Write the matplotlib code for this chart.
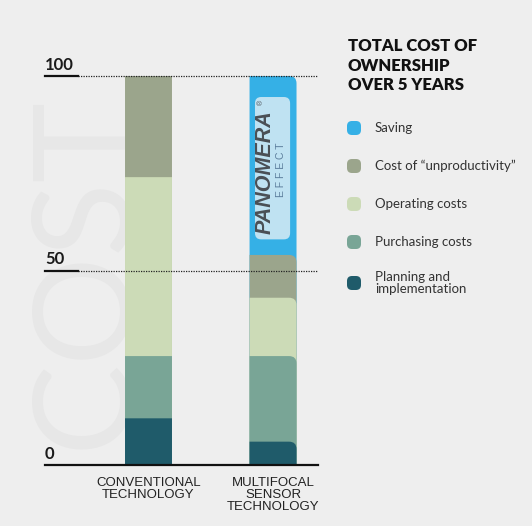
import matplotlib
matplotlib.use('Agg')
import matplotlib.pyplot as plt
from matplotlib.path import Path
from matplotlib.patches import PathPatch, FancyBboxPatch
import numpy as np

# Datos
categories = ['CONVENTIONAL\nTECHNOLOGY', 'MULTIFOCAL\nSENSOR\nTECHNOLOGY']
planning = [12, 6]
purchasing = [16, 22]
operating = [46, 15]
unproductivity = [26, 11]
saving = [0, 46]

series_names = ['Planning and\nimplementation', 'Purchasing costs', 'Operating costs',
                'Cost of \u201cunproductivity\u201d', 'Saving']
series_values = [planning, purchasing, operating, unproductivity, saving]
colors = ['#1f5b6a', '#79a596', '#ccdbb7', '#9ba58c', '#35b0e6']
round_side = ['left', 'right']
yticks = [0, 50, 100]

BG = '#eeeeee'
W, H = 532, 526
fig = plt.figure(figsize=(W / 100, H / 100), dpi=100, facecolor=BG)

# eje principal
ax = fig.add_axes([45 / W, 1 - 465 / H, 273 / W, 389 / H])
ax.patch.set_visible(False)
ax.set_xlim(-0.831, 1.361)
ax.set_ylim(0, 100)
ax.axis('off')

# texto de fondo "COST"
ax.text(0.15, 0.497, 'COST', transform=ax.transAxes, rotation=90, fontsize=98,
        family='Lato', color='#e7e7e7', ha='center', va='center', zorder=0)

bar_w = 0.377
rx, ry = 0.06, 1.9


def seg_path(x0, x1, y0, y1, side):
    if side == 'right':
        verts = [(x0, y0), (x1, y0), (x1, y1 - ry), (x1, y1), (x1 - rx, y1), (x0, y1), (x0, y0)]
    else:
        verts = [(x0, y0), (x1, y0), (x1, y1), (x0 + rx, y1), (x0, y1), (x0, y1 - ry), (x0, y0)]
    codes = [Path.MOVETO, Path.LINETO, Path.LINETO, Path.CURVE3, Path.CURVE3, Path.LINETO, Path.CLOSEPOLY]
    return Path(verts, codes)


tops = np.cumsum(np.array(series_values), axis=0)
for i in range(len(categories)):
    x0, x1 = i - bar_w / 2, i + bar_w / 2
    # de arriba hacia abajo, cada tramo llega hasta 0
    for k in range(len(series_values) - 1, -1, -1):
        if series_values[k][i] == 0:
            continue
        p = PathPatch(seg_path(x0, x1, 0, tops[k][i], round_side[i]),
                      facecolor=colors[k], edgecolor='none', zorder=2 + (5 - k))
        ax.add_patch(p)

# lineas de referencia
for v in yticks:
    if v == 0:
        ax.plot([-0.831, 1.361], [0, 0], color='#111111', lw=1.6, clip_on=False, zorder=10)
    else:
        ax.plot([-0.831, -0.566], [v, v], color='#111111', lw=1.6, clip_on=False, zorder=10)
        ax.plot([-0.566, 1.361], [v, v], color='#222222', lw=0.9, ls=(0, (1, 1)),
                clip_on=False, zorder=10)
    ax.text(-0.831, v + 0.8, str(v), fontsize=12, family='Lato', weight='bold',
            color='#1a1a1a', ha='left', va='bottom', zorder=10)

# etiquetas de categoria
for i, c in enumerate(categories):
    ax.text(i, -3.2, c, fontsize=9.5, family='Liberation Sans', color='#222222',
            ha='center', va='top', linespacing=1.0, clip_on=False)

# logo PANOMERA en el tramo de ahorro
logo = FancyBboxPatch((0.855, 58), 0.282, 36.6, boxstyle='round,pad=0,rounding_size=0.05',
                      mutation_aspect=32, facecolor='#bfe2f2', edgecolor='none', zorder=20)
ax.add_patch(logo)
ax.text(0.934, 59.3, 'PANOMERA', rotation=90, fontsize=15.5, family='Liberation Sans',
        weight='bold', style='italic', color='#4a4f55', ha='center', va='bottom', zorder=21)
ax.text(0.905, 94.0, '\u00ae', rotation=90, fontsize=5, family='Liberation Sans',
        color='#4a4f55', ha='center', va='top', zorder=21)
ax.text(1.06, 76.0, 'E F F E C T', rotation=90, fontsize=7.5, family='Liberation Sans',
        color='#5c7e9c', ha='center', va='center', zorder=21)

# leyenda en coordenadas de pixel
lax = fig.add_axes([0, 0, 1, 1])
lax.set_xlim(0, W)
lax.set_ylim(H, 0)
lax.axis('off')
lax.patch.set_visible(False)

lax.text(348, 38, 'TOTAL COST OF\nOWNERSHIP\nOVER 5 YEARS', fontsize=12, family='Lato',
         weight='heavy', color='#111111', ha='left', va='top', linespacing=1.28)

legend_y = [128, 166, 204, 242, 283]
legend_order = [4, 3, 2, 1, 0]
for y, k in zip(legend_y, legend_order):
    lax.add_patch(FancyBboxPatch((347, y - 7), 14, 14, boxstyle='round,pad=0,rounding_size=5',
                                 facecolor=colors[k], edgecolor='none'))
    lax.text(375, y, series_names[k], fontsize=9.5, family='Lato', color='#333333',
             ha='left', va='center', linespacing=1.05)

plt.savefig('out.png', dpi=100, facecolor=BG)
